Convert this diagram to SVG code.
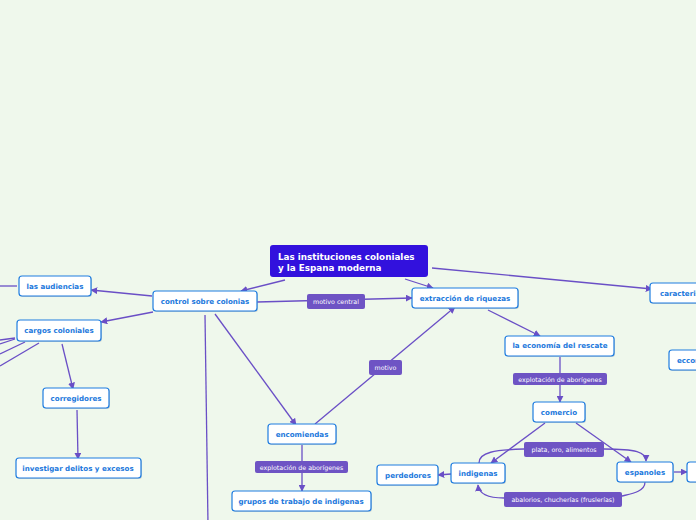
<svg xmlns="http://www.w3.org/2000/svg" width="696" height="520" viewBox="0 0 696 520">
<defs>
<marker id="ah" viewBox="0 0 10 10" refX="9" refY="5" markerWidth="7" markerHeight="7" orient="auto" markerUnits="userSpaceOnUse">
<path d="M0,0 L10,5 L0,10 z" fill="#6a4fc6"/>
</marker>
<style>
.bg{fill:#eff8ec}
.n{fill:#ffffff;stroke:#1f7de0;stroke-width:1.2}
.sh{fill:#9aa8b8;opacity:0.5}
.t{font-family:"DejaVu Sans",Verdana,sans-serif;font-weight:bold;font-size:7.1px;fill:#1b78dc;text-anchor:middle}
.rt{font-family:"DejaVu Sans",Verdana,sans-serif;font-weight:bold;font-size:8.8px;fill:#ffffff}
.lb{fill:#6e54c4}
.lt{font-family:"DejaVu Sans",Verdana,sans-serif;font-size:6.3px;fill:#ffffff;text-anchor:middle}
.c{fill:none;stroke:#6a4fc6;stroke-width:1.3}
</style>
</defs>
<rect class="bg" x="0" y="0" width="696" height="520"/>
<g id="connectors">
<line class="c" x1="285" y1="280" x2="241" y2="291" marker-end="url(#ah)"/>
<line class="c" x1="405" y1="279" x2="433" y2="288" marker-end="url(#ah)"/>
<line class="c" x1="432" y1="268" x2="652" y2="289" marker-end="url(#ah)"/>
<line class="c" x1="152" y1="296" x2="91" y2="290" marker-end="url(#ah)"/>
<line class="c" x1="153" y1="312" x2="101" y2="322" marker-end="url(#ah)"/>
<line class="c" x1="215" y1="314" x2="296" y2="425" marker-end="url(#ah)"/>
<line class="c" x1="205" y1="315" x2="208" y2="525"/>
<line class="c" x1="257" y1="302" x2="412" y2="298" marker-end="url(#ah)"/>
<line class="c" x1="315" y1="424" x2="455" y2="307" marker-end="url(#ah)"/>
<line class="c" x1="488" y1="310" x2="540" y2="336" marker-end="url(#ah)"/>
<line class="c" x1="560" y1="357" x2="560" y2="402" marker-end="url(#ah)"/>
<line class="c" x1="302" y1="445" x2="302" y2="491" marker-end="url(#ah)"/>
<line class="c" x1="62" y1="344" x2="73" y2="389" marker-end="url(#ah)"/>
<line class="c" x1="77" y1="410" x2="78" y2="459" marker-end="url(#ah)"/>
<line class="c" x1="15" y1="338" x2="0" y2="340"/>
<line class="c" x1="15" y1="339" x2="0" y2="344"/>
<line class="c" x1="25" y1="342" x2="0" y2="354"/>
<line class="c" x1="39" y1="343" x2="0" y2="366"/>
<line class="c" x1="17" y1="286" x2="0" y2="286"/>
<line class="c" x1="545" y1="423" x2="491" y2="463" marker-end="url(#ah)"/>
<line class="c" x1="576" y1="423" x2="631" y2="462" marker-end="url(#ah)"/>
<path class="c" d="M479,463 C479,452 495,450 524,449 L604,449 C636,449 646,452 646,461" marker-end="url(#ah)"/>
<path class="c" d="M645,482 C645,492 630,494 622,496 L504,498 C490,498 479,495 478,485" marker-end="url(#ah)"/>
<line class="c" x1="451" y1="474" x2="438" y2="475" marker-end="url(#ah)"/>
<line class="c" x1="674" y1="472" x2="687" y2="472" marker-end="url(#ah)"/>
</g>
<g id="root">
<rect x="270" y="245" width="158" height="32" rx="3" fill="#3211dd"/>
<text class="rt" x="278" y="260">Las instituciones coloniales</text>
<text class="rt" x="278" y="271">y la Espana moderna</text>
</g>
<g id="n-audiencias"><rect class="sh" x="20" y="277" width="72" height="20" rx="3"/><rect class="n" x="19" y="276" width="72" height="20" rx="3"/><text class="t" x="55" y="289">las audiencias</text></g>
<g id="n-control"><rect class="sh" x="154" y="292" width="104" height="20" rx="3"/><rect class="n" x="153" y="291" width="104" height="20" rx="3"/><text class="t" x="205" y="304">control sobre colonias</text></g>
<g id="n-cargos"><rect class="sh" x="18" y="321" width="84" height="21" rx="3"/><rect class="n" x="17" y="320" width="84" height="21" rx="3"/><text class="t" x="59" y="333">cargos coloniales</text></g>
<g id="n-corregidores"><rect class="sh" x="44" y="389" width="66" height="20" rx="3"/><rect class="n" x="43" y="388" width="66" height="20" rx="3"/><text class="t" x="76" y="401">corregidores</text></g>
<g id="n-investigar"><rect class="sh" x="17" y="459" width="125" height="20" rx="3"/><rect class="n" x="16" y="458" width="125" height="20" rx="3"/><text class="t" x="78" y="471">investigar delitos y excesos</text></g>
<g id="n-encomiendas"><rect class="sh" x="269" y="425" width="68" height="20" rx="3"/><rect class="n" x="268" y="424" width="68" height="20" rx="3"/><text class="t" x="302" y="437">encomiendas</text></g>
<g id="n-grupos"><rect class="sh" x="233" y="492" width="139" height="20" rx="3"/><rect class="n" x="232" y="491" width="139" height="20" rx="3"/><text class="t" x="301" y="504">grupos de trabajo de indigenas</text></g>
<g id="n-perdedores"><rect class="sh" x="378" y="466" width="61" height="20" rx="3"/><rect class="n" x="377" y="465" width="61" height="20" rx="3"/><text class="t" x="408" y="478">perdedores</text></g>
<g id="n-extraccion"><rect class="sh" x="413" y="289" width="106" height="20" rx="3"/><rect class="n" x="412" y="288" width="106" height="20" rx="3"/><text class="t" x="465" y="301">extracción de riquezas</text></g>
<g id="n-rescate"><rect class="sh" x="506" y="337" width="109" height="20" rx="3"/><rect class="n" x="505" y="336" width="109" height="20" rx="3"/><text class="t" x="560" y="348">la economía del rescate</text></g>
<g id="n-caracteristicas"><rect class="sh" x="651" y="284" width="80" height="20" rx="3"/><rect class="n" x="650" y="283" width="80" height="20" rx="3"/><text class="t" x="660" y="296" style="text-anchor:start">caracteristicas</text></g>
<g id="n-ecconomia"><rect class="sh" x="670" y="351" width="80" height="20" rx="3"/><rect class="n" x="669" y="350" width="80" height="20" rx="3"/><text class="t" x="677" y="363" style="text-anchor:start">ecconomía</text></g>
<g id="n-comercio"><rect class="sh" x="534" y="403" width="52" height="20" rx="3"/><rect class="n" x="533" y="402" width="52" height="20" rx="3"/><text class="t" x="559" y="415">comercio</text></g>
<g id="n-indigenas"><rect class="sh" x="452" y="464" width="54" height="20" rx="3"/><rect class="n" x="451" y="463" width="54" height="20" rx="3"/><text class="t" x="478" y="476">indigenas</text></g>
<g id="n-espanoles"><rect class="sh" x="618" y="463" width="56" height="20" rx="3"/><rect class="n" x="617" y="462" width="56" height="20" rx="3"/><text class="t" x="645" y="475">espanoles</text></g>
<g id="n-right"><rect class="sh" x="688" y="463" width="40" height="20" rx="3"/><rect class="n" x="687" y="462" width="40" height="20" rx="3"/></g>
<g id="labels">
<rect class="lb" x="307" y="294" width="58" height="15" rx="2"/><text class="lt" x="336" y="304">motivo central</text>
<rect class="lb" x="369" y="360" width="33" height="15" rx="2"/><text class="lt" x="385.5" y="370">motivo</text>
<rect class="lb" x="255" y="461" width="93" height="12" rx="2"/><text class="lt" x="301.5" y="469.5">explotación de aborígenes</text>
<rect class="lb" x="513" y="373" width="94" height="12" rx="2"/><text class="lt" x="560" y="381.5">explotación de aborígenes</text>
<rect class="lb" x="524" y="442" width="80" height="15" rx="2"/><text class="lt" x="564" y="452">plata, oro, alimentos</text>
<rect class="lb" x="504" y="492" width="118" height="15" rx="2"/><text class="lt" x="563" y="502">abalorios, chucherías (fruslerías)</text>
</g>
</svg>
